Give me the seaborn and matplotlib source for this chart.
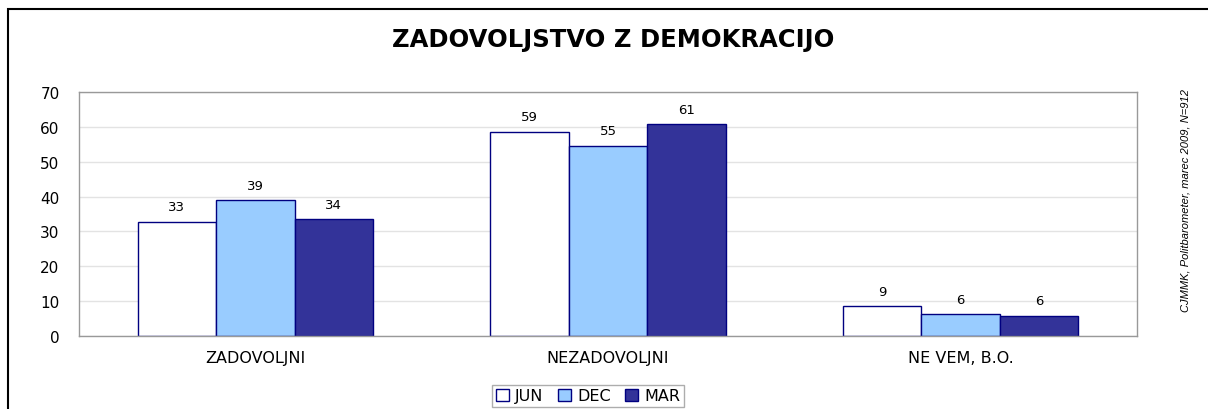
import pandas as pd
import matplotlib.pyplot as plt
import seaborn as sns
from matplotlib.patches import Patch, Rectangle

# values (bar heights) and the rounded labels printed above them
categories = ['ZADOVOLJNI', 'NEZADOVOLJNI', 'NE VEM, B.O.']
periods = ['JUN', 'DEC', 'MAR']
jun = [32.8, 58.6, 8.6]
dec = [38.9, 54.6, 6.2]
mar = [33.6, 60.7, 5.8]
jun_labels = ['33', '59', '9']
dec_labels = ['39', '55', '6']
mar_labels = ['34', '61', '6']
colors = ['#FFFFFF', '#99CCFF', '#333399']

# long format for seaborn
df = pd.DataFrame({
    'category': categories * 3,
    'period': ['JUN'] * 3 + ['DEC'] * 3 + ['MAR'] * 3,
    'value': jun + dec + mar,
})

sns.set_style('white')
# wide face to get closer to the stretched Excel lettering
plt.rcParams['font.family'] = ['DejaVu Sans']
plt.rcParams['text.color'] = 'black'

fig = plt.figure(figsize=(12.08, 4.10), dpi=100)
ax = fig.add_axes([79 / 1208, 1 - 337 / 410, (1137 - 79) / 1208, (337 - 93) / 410])

sns.barplot(data=df, x='category', y='value', hue='period', order=categories,
            hue_order=periods, palette=colors, saturation=1, width=0.667, gap=0,
            edgecolor='#000080', linewidth=1, legend=False, ax=ax)

for cont, labs in zip(ax.containers, [jun_labels, dec_labels, mar_labels]):
    ax.bar_label(cont, labels=labs, padding=6, fontsize=9.5, color='black')

ax.set_xlim(-0.5, 2.5)
ax.set_ylim(0, 70)
ax.set_yticks(range(0, 80, 10))
ax.set_xticks([0, 1, 2])
ax.set_xticklabels(categories)
ax.set_xticks([-0.5, 0.5, 1.5, 2.5], minor=True)
ax.set_xlabel('')
ax.set_ylabel('')
ax.tick_params(axis='x', which='major', length=0, pad=10, labelsize=11.5, labelcolor='black')
ax.tick_params(axis='x', which='minor', length=5, color='#999999', direction='out')
ax.tick_params(axis='y', length=6, color='#999999', direction='out', pad=8,
               labelsize=11, labelcolor='black')
ax.yaxis.grid(True, color='#e3e3e3', linewidth=1)
ax.set_axisbelow(True)
for sp in ax.spines.values():
    sp.set_color('#999999')
    sp.set_linewidth(1)

fig.text(0.508, 0.902, 'ZADOVOLJSTVO Z DEMOKRACIJO', ha='center', va='center',
         fontsize=17.5, fontweight='bold')
fig.text(1185 / 1208, 1 - 200 / 410, 'CJMMK, Politbarometer, marec 2009, N=912',
         rotation=90, ha='center', va='center', fontsize=8, style='italic',
         family='Liberation Sans')

handles = [Patch(facecolor=c, edgecolor='#000080', linewidth=1) for c in colors]
leg = fig.legend(handles, periods, loc='center', bbox_to_anchor=(588 / 1208, 1 - 397 / 410),
                 ncol=3, frameon=True, fancybox=False, edgecolor='#999999', fontsize=11.5,
                 handlelength=0.8, handleheight=0.8, handletextpad=0.4,
                 columnspacing=0.9, borderpad=0.25)
leg.get_frame().set_linewidth(1)

# outer chart border
fig.patches.append(Rectangle((8 / 1208, -0.1), 1.1, 1 - 10 / 410 + 0.1,
                             transform=fig.transFigure, fill=False,
                             edgecolor='black', linewidth=1.5))

fig.savefig('out.png', dpi=100)
